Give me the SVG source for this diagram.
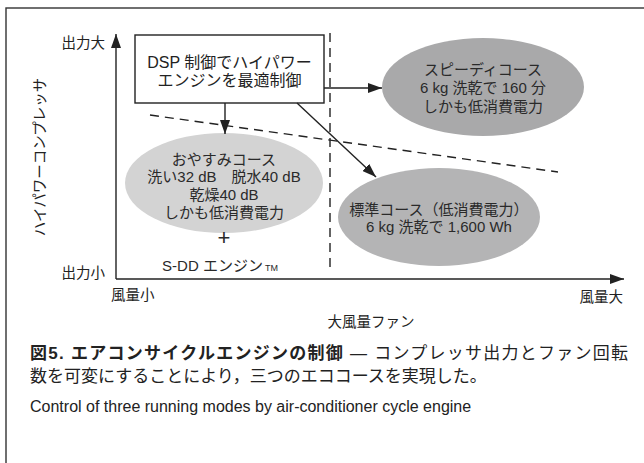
<svg xmlns="http://www.w3.org/2000/svg" width="644" height="463" viewBox="0 0 644 463">
<style>
text{font-family:"Liberation Sans","Noto Sans CJK JP",sans-serif;fill:#222}
.lab{font-size:14.5px}
.el{font-size:15px;text-anchor:middle;fill:#2a2a2a}
.ln{stroke:#222;stroke-width:1.4;fill:none}
.dash{stroke:#222;stroke-width:1.4;fill:none;stroke-dasharray:9,6}
</style>
<defs>
<marker id="ah" viewBox="0 0 14 10" refX="14" refY="5" markerWidth="14" markerHeight="10" markerUnits="userSpaceOnUse" orient="auto">
<path d="M0,0 L14,5 L0,10 z" fill="#222"/>
</marker>
</defs>
<rect x="6" y="8" width="700" height="500" fill="none" stroke="#333" stroke-width="1.4"/>
<g id="axes">
<line class="ln" x1="116" y1="279" x2="116" y2="34" marker-end="url(#ah)"/>
<line class="ln" x1="116" y1="279" x2="624" y2="279" marker-end="url(#ah)"/>
<text class="lab" x="105" y="48" text-anchor="end">出力大</text>
<text class="lab" x="105" y="278" text-anchor="end">出力小</text>
<text class="lab" x="111" y="300">風量小</text>
<text class="lab" x="623" y="302" text-anchor="end">風量大</text>
<text class="lab" x="371" y="327" text-anchor="middle">大風量ファン</text>
<text class="lab" transform="translate(45,157) rotate(-90)" text-anchor="middle">ハイパワーコンプレッサ</text>
</g>
<g id="guides">
<line class="dash" x1="330" y1="33" x2="330" y2="268" stroke-dasharray="7,6"/>
<line class="dash" x1="150" y1="115" x2="558" y2="172"/>
</g>
<g id="n-speedy">
<ellipse cx="483" cy="87" rx="101" ry="49" fill="#a9a9aa"/>
<text class="el" x="483" y="75">スピーディコース</text>
<text class="el" x="483" y="93">6 kg 洗乾で 160 分</text>
<text class="el" x="483" y="112">しかも低消費電力</text>
</g>
<g id="n-oyasumi">
<ellipse cx="224" cy="183" rx="99" ry="50" fill="#d3d3d3"/>
<text class="el" x="224" y="165">おやすみコース</text>
<text class="el" x="224" y="182">洗い32 dB　脱水40 dB</text>
<text class="el" x="224" y="200">乾燥40 dB</text>
<text class="el" x="224" y="218">しかも低消費電力</text>
<text class="el" x="224" y="245" style="font-size:22px;font-weight:300">+</text>
<text class="el" x="220" y="271">S-DD エンジン<tspan style="font-size:9px" dx="2">TM</tspan></text>
</g>
<g id="n-standard">
<ellipse cx="439" cy="217" rx="101" ry="49" fill="#b4b4b5"/>
<text class="el" x="439" y="215">標準コース（低消費電力）</text>
<text class="el" x="439" y="232">6 kg 洗乾で 1,600 Wh</text>
</g>
<g id="n-dsp">
<rect x="135" y="35" width="189" height="68" fill="#fff" stroke="#222" stroke-width="1.4"/>
<text x="229.5" y="68" text-anchor="middle" style="font-size:16px">DSP 制御でハイパワー</text>
<text x="229.5" y="86" text-anchor="middle" style="font-size:16px">エンジンを最適制御</text>
</g>
<g id="connectors">
<line class="ln" x1="225" y1="103" x2="225" y2="134" marker-end="url(#ah)"/>
<line class="ln" x1="324" y1="88" x2="382" y2="88" marker-end="url(#ah)"/>
<line class="ln" x1="297" y1="103" x2="376" y2="177" marker-end="url(#ah)"/>
</g>
<g id="caption">
<text x="30" y="359" style="font-size:17px" textLength="598" lengthAdjust="spacing"><tspan font-weight="bold">図5.  エアコンサイクルエンジンの制御</tspan> — コンプレッサ出力とファン回転</text>
<text x="30" y="382" style="font-size:17px">数を可変にすることにより，三つのエココースを実現した。</text>
<text x="30" y="412" style="font-size:16px">Control of three running modes by air-conditioner cycle engine</text>
</g>
</svg>
